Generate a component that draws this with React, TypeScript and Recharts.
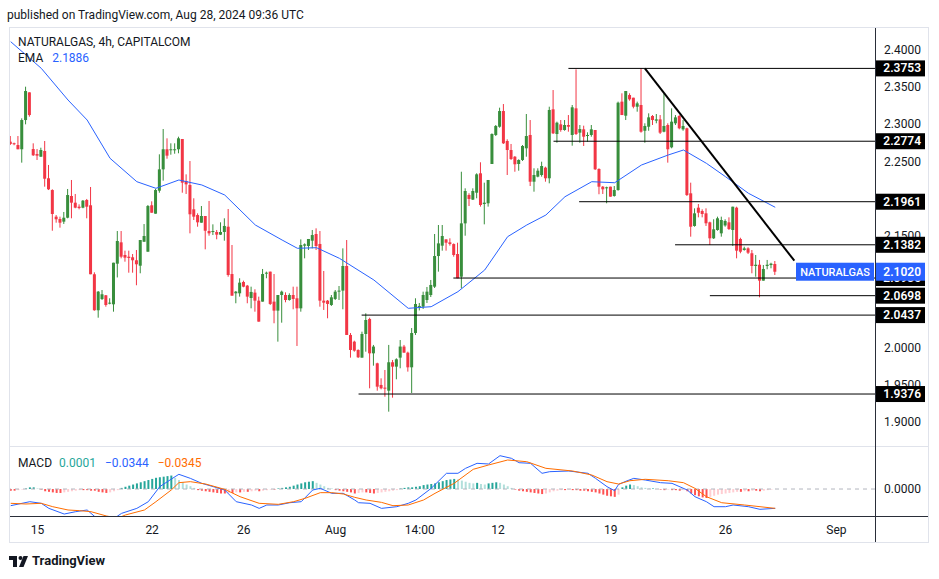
import React from 'react';
import { ComposedChart, Bar, Line, XAxis, YAxis, ReferenceLine, Cell } from 'recharts';

// NATURALGAS 4h candles
const opens = [
  2.2768, 2.2747, 2.2723, 2.2666, 2.3059, 2.3431, 2.2669, 2.2602, 2.2566, 2.2643,
  2.2276, 2.2118, 2.1760, 2.1729, 2.1693, 2.1746, 2.2038, 2.1948, 2.1894, 2.1881,
  2.1984, 2.1913, 2.0986, 2.0502, 2.0653, 2.0703, 2.0591, 2.0582, 2.1128, 2.1415,
  2.1245, 2.1222, 2.1214, 2.1174, 2.1101, 2.1423, 2.1289, 2.1913, 2.1800, 2.2109,
  2.2396, 2.2666, 2.2653, 2.2653, 2.2666, 2.2804, 2.2240, 2.2186, 2.1859, 2.1782,
  2.1679, 2.1769, 2.1567, 2.1554, 2.1554, 2.1518, 2.1554, 2.1625, 2.0989, 2.0730,
  2.0730, 2.0882, 2.0833, 2.0667, 2.0739, 2.0631, 2.0618, 2.0994, 2.1021, 2.0618,
  2.0497, 2.0707, 2.0707, 2.0640, 2.0707, 2.0663, 2.0528, 2.1370, 2.1366, 2.1437,
  2.1527, 2.1393, 2.0631, 2.0631, 2.0573, 2.0654, 2.0752, 2.0766, 2.1097, 2.0170,
  2.0080, 1.9968, 1.9865, 2.0183, 2.0385, 1.9923, 1.9789, 1.9498, 1.9462, 1.9421,
  1.9803, 1.9744, 1.9865, 2.0014, 1.9932, 1.9735, 2.0196, 2.0540, 2.0550, 2.0640,
  2.0707, 2.0819, 2.1231, 2.1370, 2.1455, 2.1415, 2.1392, 2.1258, 2.0953, 2.1670,
  2.2051, 2.1989, 2.2082, 2.2343, 2.1930, 2.1940, 2.2468, 2.2858, 2.2969, 2.3180,
  2.2777, 2.2656, 2.2566, 2.2468, 2.2522, 2.2679, 2.2858, 2.2230, 2.2298, 2.2320,
  2.2419, 2.2276, 2.3203, 2.2871, 2.3001, 2.2925, 2.2992, 2.2858, 2.3216, 2.2889,
  2.2934, 2.2844, 2.2858, 2.2925, 2.2401, 2.2163, 2.2141, 2.2163, 2.2038, 2.2118,
  2.3306, 2.3117, 2.3395, 2.3359, 2.3238, 2.3261, 2.2915, 2.2969, 2.3113, 2.3050,
  2.3068, 2.2902, 2.2992, 2.2692, 2.3015, 2.3113, 2.2934, 2.2948, 2.2074, 2.1635,
  2.1881, 2.1836, 2.1805, 2.1684, 2.1469, 2.1581, 2.1536, 2.1642, 2.1684, 2.1581,
  2.1881, 2.1460, 2.1312, 2.1334, 2.1268, 2.1097, 2.1114, 2.0900, 2.1097, 2.1110,
  2.1124,
];
const highs = [
  2.2844, 2.2755, 2.2844, 2.3082, 2.3507, 2.3431, 2.2746, 2.2669, 2.2687, 2.2777,
  2.2455, 2.2128, 2.1782, 2.1760, 2.1823, 2.2132, 2.2253, 2.2065, 2.1926, 2.1984,
  2.1998, 2.2159, 2.1012, 2.0761, 2.0774, 2.0707, 2.0663, 2.1141, 2.1567, 2.1567,
  2.1303, 2.1303, 2.1258, 2.1312, 2.1446, 2.1661, 2.1917, 2.1966, 2.2132, 2.2598,
  2.2938, 2.2813, 2.2746, 2.2746, 2.2835, 2.2804, 2.2329, 2.2508, 2.2007, 2.1805,
  2.1903, 2.1769, 2.1971, 2.1657, 2.1581, 2.1684, 2.1738, 2.1863, 2.1379, 2.0761,
  2.0932, 2.0900, 2.0842, 2.0819, 2.0784, 2.0685, 2.1057, 2.1021, 2.1021, 2.0989,
  2.0707, 2.0766, 2.0743, 2.0730, 2.0819, 2.0819, 2.1455, 2.1401, 2.1460, 2.1581,
  2.1603, 2.1567, 2.1030, 2.0640, 2.0707, 2.0774, 2.0828, 2.1334, 2.1446, 2.0196,
  2.0093, 1.9977, 2.0214, 2.0461, 2.0402, 2.0036, 1.9797, 1.9587, 1.9699, 2.0036,
  1.9834, 1.9856, 2.0102, 2.0036, 1.9945, 2.0263, 2.0663, 2.0600, 2.0752, 2.0815,
  2.0909, 2.1527, 2.1648, 2.1648, 2.1455, 2.1469, 2.1401, 2.1410, 2.2364, 2.2141,
  2.2074, 2.2141, 2.2343, 2.2491, 2.2217, 2.2253, 2.2880, 2.2992, 2.3225, 2.3274,
  2.2800, 2.2737, 2.2575, 2.2531, 2.2723, 2.3140, 2.3059, 2.2410, 2.2410, 2.2499,
  2.2432, 2.3238, 2.3462, 2.3037, 2.3059, 2.3059, 2.3126, 2.3261, 2.3740, 2.2992,
  2.2983, 2.2894, 2.2992, 2.2925, 2.2410, 2.2172, 2.2163, 2.2163, 2.2172, 2.3306,
  2.3418, 2.3449, 2.3418, 2.3359, 2.3306, 2.3754, 2.3015, 2.3149, 2.3126, 2.3140,
  2.3126, 2.3409, 2.3015, 2.3216, 2.3126, 2.3126, 2.3059, 2.2956, 2.2217, 2.1872,
  2.1930, 2.1859, 2.1872, 2.1693, 2.1725, 2.1760, 2.1760, 2.1725, 2.1751, 2.1894,
  2.1894, 2.1477, 2.1356, 2.1348, 2.1312, 2.1245, 2.1178, 2.1110, 2.1178, 2.1141,
  2.1164,
];
const lows = [
  2.2723, 2.2720, 2.2666, 2.2486, 2.3001, 2.3104, 2.2576, 2.2522, 2.2566, 2.2163,
  2.2118, 2.1571, 2.1679, 2.1612, 2.1662, 2.1738, 2.1738, 2.1873, 2.1859, 2.1873,
  2.1738, 2.0986, 2.0496, 2.0402, 2.0640, 2.0550, 2.0582, 2.0483, 2.0943, 2.1200,
  2.1155, 2.1007, 2.1007, 2.0838, 2.0999, 2.1423, 2.1289, 2.1813, 2.1800, 2.2082,
  2.2244, 2.2539, 2.2593, 2.2606, 2.2612, 2.2082, 2.2065, 2.1536, 2.1715, 2.1625,
  2.1679, 2.1321, 2.1504, 2.1513, 2.1456, 2.1513, 2.1437, 2.0953, 2.0698, 2.0596,
  2.0685, 2.0811, 2.0596, 2.0528, 2.0483, 2.0349, 2.0618, 2.0932, 2.0573, 2.0327,
  2.0080, 2.0335, 2.0609, 2.0631, 2.0515, 2.0022, 2.0483, 2.1200, 2.1312, 2.1334,
  2.1312, 2.0550, 2.0506, 2.0394, 2.0560, 2.0640, 2.0640, 2.0515, 2.0170, 1.9865,
  1.9945, 1.9860, 1.9865, 1.9945, 1.9453, 1.9757, 1.9421, 1.9439, 1.9340, 1.9139,
  1.9327, 1.9574, 1.9722, 1.9932, 1.9677, 1.9390, 2.0170, 2.0500, 2.0519, 2.0600,
  2.0680, 2.0801, 2.1021, 2.1303, 2.1303, 2.1370, 2.1222, 2.0932, 2.0797, 2.1504,
  2.1903, 2.1984, 2.2007, 2.1895, 2.1657, 2.1895, 2.2468, 2.2844, 2.2956, 2.2737,
  2.2320, 2.2522, 2.2364, 2.2378, 2.2508, 2.2566, 2.2172, 2.2096, 2.2289, 2.2298,
  2.2230, 2.2208, 2.2871, 2.2754, 2.2902, 2.2915, 2.2902, 2.2714, 2.2858, 2.2754,
  2.2710, 2.2768, 2.2835, 2.2387, 2.2061, 2.2065, 2.1940, 2.2029, 2.2029, 2.2109,
  2.3126, 2.3059, 2.3319, 2.3216, 2.3171, 2.2889, 2.2754, 2.2915, 2.2992, 2.3015,
  2.2871, 2.2894, 2.2486, 2.2679, 2.2992, 2.2934, 2.2915, 2.2038, 2.1491, 2.1625,
  2.1751, 2.1751, 2.1635, 2.1379, 2.1460, 2.1571, 2.1491, 2.1625, 2.1581, 2.1366,
  2.1200, 2.1268, 2.1303, 2.1258, 2.0999, 2.0953, 2.0676, 2.0900, 2.1053, 2.1066,
  2.0976,
];
const closes = [
  2.2737, 2.2734, 2.2666, 2.3059, 2.3449, 2.3126, 2.2585, 2.2580, 2.2656, 2.2270,
  2.2128, 2.1796, 2.1725, 2.1679, 2.1746, 2.2051, 2.1948, 2.1881, 2.1877, 2.1975,
  2.1894, 2.0986, 2.0502, 2.0752, 2.0717, 2.0573, 2.0604, 2.1141, 2.1433, 2.1222,
  2.1209, 2.1205, 2.1174, 2.1120, 2.1446, 2.1500, 2.1903, 2.1813, 2.2118, 2.2396,
  2.2666, 2.2580, 2.2666, 2.2666, 2.2813, 2.2217, 2.2195, 2.1792, 2.1760, 2.1684,
  2.1769, 2.1571, 2.1536, 2.1567, 2.1518, 2.1554, 2.1635, 2.0976, 2.0698, 2.0752,
  2.0873, 2.0819, 2.0685, 2.0748, 2.0631, 2.0349, 2.0989, 2.1007, 2.0587, 2.0497,
  2.0707, 2.0752, 2.0640, 2.0707, 2.0654, 2.0528, 2.1379, 2.1388, 2.1460, 2.1513,
  2.1366, 2.0631, 2.0604, 2.0587, 2.0676, 2.0752, 2.0766, 2.1097, 2.0170, 1.9968,
  1.9959, 1.9870, 2.0183, 2.0371, 1.9923, 2.0014, 1.9475, 1.9453, 1.9448, 1.9803,
  1.9744, 1.9843, 2.0014, 1.9932, 1.9735, 2.0196, 2.0586, 2.0560, 2.0707, 2.0752,
  2.0842, 2.1231, 2.1401, 2.1500, 2.1410, 2.1392, 2.1245, 2.0932, 2.1670, 2.2105,
  2.1998, 2.2105, 2.2329, 2.1917, 2.1948, 2.2253, 2.2871, 2.2979, 2.3180, 2.2746,
  2.2656, 2.2535, 2.2464, 2.2522, 2.2710, 2.2844, 2.2230, 2.2320, 2.2378, 2.2441,
  2.2276, 2.3194, 2.2880, 2.3023, 2.2925, 2.2992, 2.2969, 2.3230, 2.2871, 2.2938,
  2.2835, 2.2858, 2.2934, 2.2397, 2.2163, 2.2128, 2.2155, 2.2029, 2.2118, 2.3292,
  2.3126, 2.3449, 2.3337, 2.3238, 2.3283, 2.2902, 2.2979, 2.3095, 2.3059, 2.3068,
  2.2889, 2.2979, 2.2666, 2.3037, 2.3095, 2.2948, 2.2979, 2.2051, 2.1625, 2.1805,
  2.1813, 2.1796, 2.1671, 2.1469, 2.1590, 2.1738, 2.1715, 2.1702, 2.1594, 2.1894,
  2.1303, 2.1289, 2.1334, 2.1276, 2.1097, 2.1114, 2.0900, 2.1057, 2.1114, 2.1128,
  2.1020,
];

// EMA, sampled along the blue curve (bar index, value)
const emaIdx = [0, 8, 15, 20, 26, 33, 38, 44, 50, 56, 64, 71, 75, 80, 86, 95, 104, 110, 117, 124, 130, 135, 140, 145, 152, 158, 165, 172, 176, 182, 187, 193, 200];
const emaVal = [2.4112, 2.3754, 2.3328, 2.3059, 2.2544, 2.2230, 2.2141, 2.2253, 2.2186, 2.2051, 2.1648, 2.1446, 2.1335, 2.1343, 2.1200, 2.0909, 2.0528, 2.0550, 2.0752, 2.1043, 2.1491, 2.1648, 2.1782, 2.2028, 2.2230, 2.2216, 2.2454, 2.2589, 2.2656, 2.2477, 2.2297, 2.2074, 2.1886];

// MACD panel
const macdIdx = [0, 5, 8, 10, 14, 17, 20, 23, 26, 28, 29, 33, 36, 39, 43, 44, 47, 50, 53, 56, 59, 63, 65, 67, 70, 73, 76, 79, 81, 84, 87, 90, 91, 94, 97, 101, 104, 106, 110, 114, 117, 119, 122, 125, 128, 131, 133, 136, 139, 141, 146, 151, 153, 156, 158, 159, 161, 163, 166, 170, 173, 177, 179, 182, 184, 187, 189, 193, 196, 200];
const macdVal = [-0.0297, -0.0226, -0.0255, -0.0345, -0.0446, -0.0404, -0.0374, -0.055, -0.059, -0.048, -0.0434, -0.0345, -0.0226, 0.0042, 0.022, 0.0262, 0.019, 0.0101, 0.0042, -0.0018, -0.0226, -0.0285, -0.0345, -0.0285, -0.0285, -0.0244, -0.0226, -0.0018, 0.0012, -0.0077, -0.0077, -0.0196, -0.0244, -0.0255, -0.0345, -0.0315, -0.0255, -0.0196, 0.0012, 0.028, 0.028, 0.0369, 0.0458, 0.0446, 0.0594, 0.0547, 0.0469, 0.0458, 0.028, 0.0309, 0.0321, 0.028, 0.019, 0.0042, -0.003, 0.008, 0.014, 0.019, 0.016, 0.0113, 0.0101, -0.0018, -0.0137, -0.0226, -0.0315, -0.0315, -0.0285, -0.0315, -0.0362, -0.0344];
const signalIdx = [0, 4, 8, 11, 15, 18, 21, 25, 28, 30, 35, 38, 42, 44, 47, 51, 56, 60, 65, 70, 74, 77, 81, 84, 87, 90, 93, 97, 100, 104, 108, 111, 116, 121, 125, 130, 135, 140, 147, 152, 156, 159, 162, 166, 172, 176, 179, 182, 186, 192, 200];
const signalVal = [-0.0255, -0.0267, -0.0255, -0.0315, -0.0374, -0.0386, -0.0404, -0.048, -0.052, -0.0463, -0.0374, -0.0226, -0.0018, 0.0113, 0.0131, 0.0089, -0.0006, -0.0137, -0.0255, -0.0273, -0.0226, -0.0166, -0.0065, -0.0065, -0.0089, -0.0148, -0.0196, -0.0238, -0.0297, -0.0285, -0.0196, -0.0077, 0.0101, 0.0351, 0.0428, 0.0517, 0.0487, 0.0369, 0.0321, 0.025, 0.0131, 0.0089, 0.0148, 0.0173, 0.0148, 0.0113, 0.0012, -0.0137, -0.0244, -0.0285, -0.0345];
const hist = [
  -0.003, -0.003, -0.002, -0.001, 0.001, 0.003, 0.003, 0.001, -0.001, -0.004,
  -0.005, -0.006, -0.007, -0.007, -0.006, -0.005, -0.004, -0.003, -0.002, -0.002,
  -0.002, -0.003, -0.003, -0.005, -0.006, -0.007, -0.006, -0.004, -0.002, 0.002,
  0.004, 0.006, 0.008, 0.010, 0.012, 0.014, 0.016, 0.018, 0.020, 0.021,
  0.022, 0.023, 0.024, 0.020, 0.016, 0.012, 0.008, 0.005, 0.002, -0.002,
  -0.003, -0.004, -0.005, -0.006, -0.007, -0.008, -0.008, -0.007, -0.007, -0.006,
  -0.006, -0.005, -0.005, -0.004, -0.003, -0.004, -0.003, -0.002, -0.001, -0.001,
  0.001, 0.002, 0.003, 0.004, 0.006, 0.008, 0.010, 0.012, 0.013, 0.014,
  0.011, 0.008, 0.005, 0.002, 0.001, -0.002, -0.003, -0.004, -0.005, -0.006,
  -0.008, -0.007, -0.006, -0.006, -0.007, -0.008, -0.007, -0.006, -0.005, -0.004,
  -0.003, -0.002, 0.001, 0.002, 0.003, 0.003, 0.004, 0.005, 0.007, 0.008,
  0.009, 0.010, 0.012, 0.014, 0.016, 0.017, 0.018, 0.017, 0.015, 0.013,
  0.011, 0.010, 0.011, 0.009, 0.008, 0.010, 0.011, 0.012, 0.011, 0.008,
  0.005, 0.002, -0.001, -0.003, -0.004, -0.005, -0.006, -0.007, -0.008, -0.009,
  -0.008, -0.006, -0.004, -0.003, -0.002, -0.002, -0.001, -0.002, -0.002, -0.003,
  -0.003, -0.004, -0.005, -0.006, -0.008, -0.010, -0.012, -0.013, -0.014, -0.010,
  0.003, 0.006, 0.008, 0.007, 0.005, 0.003, 0.002, 0.001, 0.001, 0.000,
  -0.001, -0.002, -0.001, -0.002, -0.002, -0.003, -0.002, -0.004, -0.008, -0.011,
  -0.013, -0.015, -0.016, -0.014, -0.012, -0.010, -0.009, -0.008, -0.007, -0.006,
  -0.005, -0.005, -0.004, -0.004, -0.003, -0.003, -0.004, -0.003, -0.002, -0.001,
  0.0001,
];

// drawn levels: [price, first bar]
const levelPrices = [2.3753, 2.2774, 2.1961, 2.1382, 2.0935, 2.0698, 2.0437, 1.9376];
const levelStart = [145.9, 142, 148.7, 173.8, 115.8, 182.9, 91.8, 91];
const trendFrom = { x: 165.9, y: 2.3754 };
const trendTo = { x: 205, y: 2.1168 };
const lastPrice = 2.102;

const priceTicks = [2.4, 2.35, 2.3, 2.25, 2.15, 2.0, 1.95, 1.9];
const timeTicks = [7, 37, 61, 85, 107, 127.5, 157, 187, 216];
const timeLabels = ['15', '22', '26', 'Aug', '14:00', '12', '19', '26', 'Sep'];

const UP = '#388e3c';
const DOWN = '#f23645';
const FONT = 'Roboto, "Noto Sans", sans-serif';
const X_DOMAIN: [number, number] = [-0.18, 226.1];

const candles = closes.map((c, i) => ({
  i,
  open: opens[i],
  high: highs[i],
  low: lows[i],
  close: c,
  range: [lows[i], highs[i]],
  ema: undefined as number | undefined,
}));
emaIdx.forEach((k, j) => { candles[k].ema = emaVal[j]; });

const macdRows = hist.map((h, i) => ({ i, hist: h, macd: undefined as number | undefined, signal: undefined as number | undefined }));
macdIdx.forEach((k, j) => { macdRows[k].macd = macdVal[j]; });
signalIdx.forEach((k, j) => { macdRows[k].signal = signalVal[j]; });

const histColor = (i: number) => {
  const h = hist[i];
  const prev = i > 0 ? hist[i - 1] : h;
  if (h >= 0) return h >= prev ? '#26a69a' : '#b2dfdb';
  return h <= prev ? '#ff5252' : '#ffcdd2';
};

const Candle = (props: any) => {
  const { x, y, width, height, payload } = props;
  if (x == null || y == null || !payload) return null;
  const { open, close, high, low } = payload;
  const color = close >= open ? UP : DOWN;
  const top = Math.min(y, y + height);
  const h = Math.abs(height);
  const k = high > low ? h / (high - low) : 0;
  const bTop = top + (high - Math.max(open, close)) * k;
  const bBot = top + (high - Math.min(open, close)) * k;
  const cx = x + width / 2;
  return (
    <g>
      <line x1={cx} x2={cx} y1={top} y2={top + h} stroke={color} strokeWidth={1} />
      <rect x={cx - 1.5} y={bTop} width={3} height={Math.max(1, bBot - bTop)} fill={color} />
    </g>
  );
};

const PriceTick = (props: any) => {
  const { x, y, payload } = props;
  const v = payload.value;
  if (v === lastPrice) {
    return (
      <g>
        <rect x={x - 79} y={y - 9} width={78} height={18} fill="#2962ff" />
        <text x={x - 40} y={y + 4} textAnchor="middle" fill="#fff" fontSize={11} fontWeight={500} fontFamily={FONT}>NATURALGAS</text>
        <rect x={x + 1} y={y - 9} width={49} height={18} fill="#2962ff" />
        <text x={x + 46} y={y + 4} textAnchor="end" fill="#fff" fontSize={12} fontFamily={FONT} fontWeight={600}>{v.toFixed(4)}</text>
      </g>
    );
  }
  if (levelPrices.includes(v)) {
    return (
      <g>
        <rect x={x + 1} y={y - 8} width={49} height={16} fill="#000" />
        <text x={x + 46} y={y + 4} textAnchor="end" fill="#fff" fontSize={12} fontFamily={FONT} fontWeight={600}>{v.toFixed(4)}</text>
      </g>
    );
  }
  return (
    <text x={x + 46} y={y + 4} textAnchor="end" fill="#131722" fontSize={12} fontFamily={FONT}>{v.toFixed(4)}</text>
  );
};

const TimeTick = (props: any) => {
  const { x, y, payload } = props;
  const idx = timeTicks.indexOf(payload.value);
  return (
    <text x={x} y={y + 18} textAnchor="middle" fill="#131722" fontSize={12} fontFamily={FONT}>
      {timeLabels[idx]}
    </text>
  );
};

const MacdTick = (props: any) => {
  const { x, y } = props;
  return (
    <text x={x + 46} y={y + 4} textAnchor="end" fill="#131722" fontSize={12} fontFamily={FONT}>0.0000</text>
  );
};

const Logo = () => (
  <svg width={20} height={14} style={{ position: 'absolute', left: 9, top: 555 }}>
    <rect x={0} y={1} width={8} height={4} fill="#131722" />
    <rect x={4} y={1} width={4} height={11} fill="#131722" />
    <circle cx={11.5} cy={3} r={2} fill="#131722" />
    <polygon points="10,12 14.5,1 19,1 14.5,12" fill="#131722" />
  </svg>
);

export default function App() {
  return (
    <div style={{ position: 'absolute', left: 0, top: 0, width: 939, height: 579, background: '#fff', fontFamily: FONT, color: '#131722', overflow: 'hidden' }}>
      <div style={{ position: 'absolute', left: 7, top: 8, fontSize: 12 }}>published on TradingView.com, Aug 28, 2024 09:36 UTC</div>

      <div style={{ position: 'absolute', left: 9, top: 27, width: 920, height: 516, border: '1px solid #e0e3eb', boxSizing: 'border-box' }} />

      <div style={{ position: 'absolute', left: 10, top: 28 }}>
        <ComposedChart width={916} height={419} data={candles} margin={{ top: 0, right: 0, bottom: 0, left: 0 }}>
          <XAxis type="number" dataKey="i" domain={X_DOMAIN} allowDataOverflow hide />
          <Bar dataKey="range" barSize={3} shape={<Candle />} isAnimationActive={false} />
          <Line dataKey="ema" stroke="#2962ff" strokeWidth={1} dot={false} connectNulls isAnimationActive={false} />
          {levelPrices.map((p, k) => (
            <ReferenceLine key={p} segment={[{ x: levelStart[k], y: p }, { x: X_DOMAIN[1], y: p }]} stroke="#000" strokeWidth={1} />
          ))}
          <ReferenceLine segment={[trendFrom, trendTo]} stroke="#000" strokeWidth={2} />
          <YAxis
            orientation="right"
            width={51}
            domain={[1.8664, 2.4296]}
            allowDataOverflow
            ticks={[...priceTicks, ...levelPrices, lastPrice]}
            interval={0}
            tick={<PriceTick />}
            tickLine={false}
            axisLine={false}
            tickSize={0}
            tickMargin={0}
          />
        </ComposedChart>
      </div>

      <div style={{ position: 'absolute', left: 10, top: 447 }}>
        <ComposedChart width={916} height={95} data={macdRows} margin={{ top: 0, right: 0, bottom: 0, left: 0 }}>
          <XAxis
            type="number"
            dataKey="i"
            domain={X_DOMAIN}
            allowDataOverflow
            ticks={timeTicks}
            interval={0}
            tick={<TimeTick />}
            tickLine={false}
            axisLine={false}
            tickSize={0}
            tickMargin={0}
            height={26}
          />
          <ReferenceLine y={0} stroke="#b2b5be" strokeDasharray="4 4" />
          <Bar dataKey="hist" barSize={2} isAnimationActive={false}>
            {macdRows.map((r) => (
              <Cell key={r.i} fill={histColor(r.i)} />
            ))}
          </Bar>
          <Line dataKey="macd" stroke="#2962ff" strokeWidth={1} dot={false} connectNulls isAnimationActive={false} />
          <Line dataKey="signal" stroke="#ff6d00" strokeWidth={1} dot={false} connectNulls isAnimationActive={false} />
          <YAxis
            orientation="right"
            width={51}
            domain={[-0.0481, 0.0749]}
            allowDataOverflow
            ticks={[0]}
            tick={<MacdTick />}
            tickLine={false}
            axisLine={false}
            tickSize={0}
            tickMargin={0}
          />
        </ComposedChart>
      </div>

      <div style={{ position: 'absolute', left: 10, top: 446, width: 918, height: 1, background: '#e0e3eb' }} />
      <div style={{ position: 'absolute', left: 10, top: 516, width: 918, height: 1, background: '#2a2e39' }} />
      <div style={{ position: 'absolute', left: 875, top: 28, width: 1, height: 514, background: '#2a2e39' }} />

      <div style={{ position: 'absolute', left: 18, top: 35, fontSize: 12 }}>NATURALGAS, 4h, CAPITALCOM</div>
      <div style={{ position: 'absolute', left: 18, top: 51, fontSize: 12 }}>
        EMA <span style={{ color: '#2962ff', marginLeft: 6 }}>2.1886</span>
      </div>
      <div style={{ position: 'absolute', left: 18, top: 456, fontSize: 12 }}>
        MACD
        <span style={{ color: '#26a69a', marginLeft: 7 }}>0.0001</span>
        <span style={{ color: '#2962ff', marginLeft: 9 }}>−0.0344</span>
        <span style={{ color: '#ff6d00', marginLeft: 9 }}>−0.0345</span>
      </div>

      <Logo />
      <div style={{ position: 'absolute', left: 32, top: 553, fontSize: 13, fontWeight: 700 }}>TradingView</div>
    </div>
  );
}
